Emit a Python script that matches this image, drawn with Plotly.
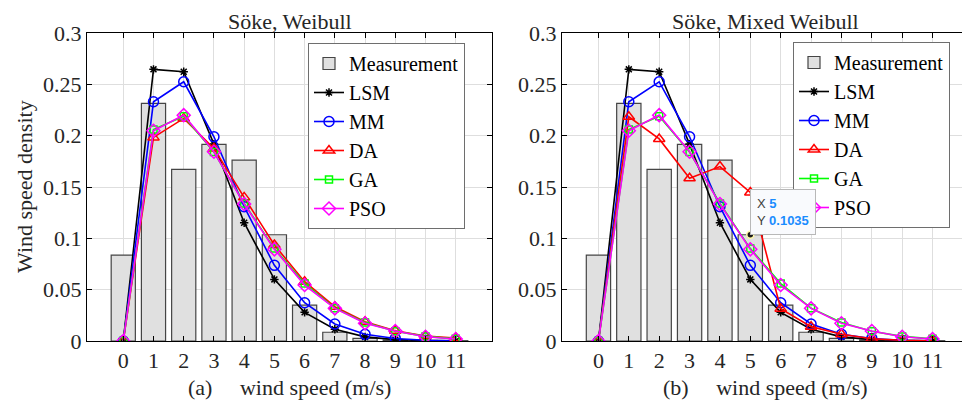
import plotly.graph_objects as go

# ---------------- data ----------------
wind_speed = [0, 1, 2, 3, 4, 5, 6, 7, 8, 9, 10, 11]
tick_labels = ["0", "1", "2", "3", "4", "5", "6", "7", "8", "9", "10", "11"]

measurement = [0.0837, 0.2314, 0.1672, 0.1915, 0.1762, 0.1035, 0.0350, 0.0085, 0.0026, 0.0010, 0.0005, 0.0003]

lsm = [0.0, 0.2646, 0.2623, 0.1918, 0.1152, 0.0600, 0.0279, 0.0114, 0.0040, 0.0013, 0.0004, 0.0001]
mm = [0.0, 0.2330, 0.2525, 0.1989, 0.1308, 0.0737, 0.0373, 0.0166, 0.0065, 0.0025, 0.0008, 0.0003]

# Weibull panel
da_weibull = [0.0, 0.1983, 0.2168, 0.1876, 0.1399, 0.0935, 0.0578, 0.0334, 0.0188, 0.0100, 0.0049, 0.0029]
ga_weibull = [0.0, 0.2060, 0.2190, 0.1840, 0.1340, 0.0900, 0.0560, 0.0320, 0.0180, 0.0095, 0.0045, 0.0021]
pso_weibull = [0.0, 0.2048, 0.2200, 0.1843, 0.1334, 0.0893, 0.0545, 0.0318, 0.0172, 0.0097, 0.0042, 0.0020]

# Mixed Weibull panel
da_mixed = [0.0, 0.2184, 0.1968, 0.1586, 0.1699, 0.1447, 0.0315, 0.0140, 0.0065, 0.0022, 0.0007, 0.0002]
ga_mixed = [0.0, 0.2060, 0.2190, 0.1840, 0.1340, 0.0900, 0.0560, 0.0320, 0.0180, 0.0095, 0.0045, 0.0021]
pso_mixed = [0.0, 0.2048, 0.2200, 0.1843, 0.1334, 0.0893, 0.0545, 0.0318, 0.0172, 0.0097, 0.0042, 0.0020]

y_ticks = [0, 0.05, 0.1, 0.15, 0.2, 0.25, 0.3]
y_tick_labels = ["0", "0.05", "0.1", "0.15", "0.2", "0.25", "0.3"]

panel_titles = ["Söke, Weibull", "Söke, Mixed Weibull"]
x_titles = ["(a)\u00a0\u00a0\u00a0\u00a0\u00a0wind speed (m/s)", "(b)\u00a0\u00a0\u00a0\u00a0\u00a0wind speed (m/s)"]
y_title = "Wind speed density"

datatip_index = 5  # datatip shown on the Measurement bar at x = 5

# ---------------- figure ----------------
SERIF = "Liberation Serif, Times New Roman, serif"
OFF = 8                      # default page (body) margin of the browser
W, H = 970 - OFF, 403 - OFF  # figure size so that it fits the window


def px(xp):
    return (xp - OFF) / W


def py(yp):
    return 1 - (yp - OFF) / H


fig = go.Figure()

panels = [
    ("x", "y", "legend", da_weibull, ga_weibull, pso_weibull),
    ("x2", "y2", "legend2", da_mixed, ga_mixed, pso_mixed),
]

for xa, ya, leg, da, ga, pso in panels:
    fig.add_trace(go.Bar(
        x=wind_speed, y=measurement, width=0.8, name="Measurement",
        marker=dict(color="#e0e0e0", line=dict(color="#454545", width=1.2)),
        xaxis=xa, yaxis=ya, legend=leg,
    ))
    fig.add_trace(go.Scatter(
        x=wind_speed, y=lsm, name="LSM", mode="lines+markers",
        line=dict(color="black", width=1.6),
        marker=dict(symbol="asterisk-open", size=7, color="black", line=dict(color="black", width=1.5)),
        xaxis=xa, yaxis=ya, legend=leg,
    ))
    fig.add_trace(go.Scatter(
        x=wind_speed, y=mm, name="MM", mode="lines+markers",
        line=dict(color="#0000ff", width=1.6),
        marker=dict(symbol="circle-open", size=10, color="#0000ff", line=dict(width=1.5)),
        xaxis=xa, yaxis=ya, legend=leg,
    ))
    fig.add_trace(go.Scatter(
        x=wind_speed, y=da, name="DA", mode="lines+markers",
        line=dict(color="#ff0000", width=1.6),
        marker=dict(symbol="triangle-up-open", size=10, color="#ff0000", line=dict(width=1.5)),
        xaxis=xa, yaxis=ya, legend=leg,
    ))
    fig.add_trace(go.Scatter(
        x=wind_speed, y=ga, name="GA", mode="lines+markers",
        line=dict(color="#00ff00", width=1.6),
        marker=dict(symbol="square-open", size=7, color="#00ff00", line=dict(width=1.5)),
        xaxis=xa, yaxis=ya, legend=leg,
    ))
    fig.add_trace(go.Scatter(
        x=wind_speed, y=pso, name="PSO", mode="lines+markers",
        line=dict(color="#ff00ff", width=1.6),
        marker=dict(symbol="diamond-open", size=10, color="#ff00ff", line=dict(width=1.5)),
        xaxis=xa, yaxis=ya, legend=leg,
    ))

# datatip marker on the right panel
fig.add_trace(go.Scatter(
    x=[wind_speed[datatip_index]], y=[measurement[datatip_index]], mode="markers",
    marker=dict(size=7, color="#1a1a1a", line=dict(color="#fff7a8", width=1.5)),
    showlegend=False, xaxis="x2", yaxis="y2", hoverinfo="skip",
))

ydom = [py(341), py(33)]
xdom1 = [px(87), px(492)]
xdom2 = [px(562), min(1.0, px(969))]

axis_common = dict(
    showline=True, linecolor="black", linewidth=1, mirror="ticks",
    ticks="inside", ticklen=5, tickwidth=1, tickcolor="black",
    showgrid=True, gridcolor="#dedede", gridwidth=1, zeroline=False,
    automargin=False,
    tickfont=dict(family=SERIF, size=22, color="#262626"),
)

xaxis_common = dict(axis_common, range=[-1.2, 12.2], tickvals=wind_speed, ticktext=tick_labels)
yaxis_common = dict(axis_common, range=[0, 0.3], tickvals=y_ticks, ticktext=y_tick_labels)

legend_common = dict(
    font=dict(family=SERIF, size=20, color="#000000"),
    bgcolor="white", bordercolor="#6e6e6e", borderwidth=1,
    xanchor="left", yanchor="top", tracegroupgap=0, itemwidth=30,
)

fig.update_layout(
    template="none",
    width=W, height=H, autosize=False,
    margin=dict(l=0, r=0, t=0, b=0, pad=0, autoexpand=False),
    paper_bgcolor="white", plot_bgcolor="white",
    showlegend=True, barmode="overlay",
    xaxis=dict(xaxis_common, domain=xdom1, anchor="y"),
    yaxis=dict(yaxis_common, domain=ydom, anchor="x"),
    xaxis2=dict(xaxis_common, domain=xdom2, anchor="y2"),
    yaxis2=dict(yaxis_common, domain=ydom, anchor="x2"),
    legend=dict(legend_common, x=px(308), y=py(43)),
    legend2=dict(legend_common, x=px(793), y=py(42)),
    font=dict(family=SERIF, size=22, color="#262626"),
)

annotations = []
for dom, t, xt in zip([xdom1, xdom2], panel_titles, x_titles):
    cx = (dom[0] + dom[1]) / 2
    annotations.append(dict(text=t, x=cx, y=1.0, xref="paper", yref="paper",
                            xanchor="center", yanchor="top", showarrow=False, borderpad=0,
                            font=dict(family=SERIF, size=22, color="#262626")))
    annotations.append(dict(text=xt, x=cx, y=py(387), xref="paper", yref="paper",
                            xanchor="center", yanchor="middle", showarrow=False,
                            font=dict(family=SERIF, size=22, color="#262626")))
annotations.append(dict(text=y_title, x=px(24), y=py(187), xref="paper", yref="paper",
                        xanchor="center", yanchor="middle", textangle=-90, showarrow=False,
                        font=dict(family=SERIF, size=22, color="#262626")))
# MATLAB-style datatip
annotations.append(dict(
    text=("X <b><span style='color:#1a8cff'>%d</span></b><br>Y <b><span style='color:#1a8cff'>%.4f</span></b>"
          % (wind_speed[datatip_index], measurement[datatip_index])),
    x=wind_speed[datatip_index], y=measurement[datatip_index], xref="x2", yref="y2",
    xanchor="left", yanchor="bottom", align="left", showarrow=False,
    bgcolor="#f9fafd", bordercolor="#b8b8b8", borderwidth=1, borderpad=6,
    font=dict(family="Liberation Sans, Arial, sans-serif", size=13, color="#404040"),
))
fig.update_layout(annotations=annotations)

fig.write_html("out.html")
